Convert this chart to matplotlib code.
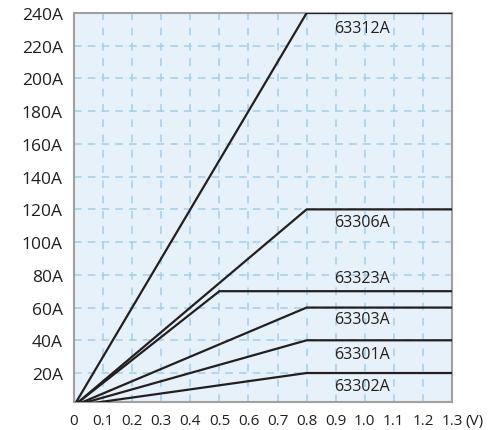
import matplotlib.pyplot as plt

# model curves: voltage at which the current saturates, max current
models = ['63312A', '63306A', '63323A', '63303A', '63301A', '63302A']
knee_v = [0.8, 0.8, 0.5, 0.8, 0.8, 0.8]
max_a = [240, 120, 70, 60, 40, 20]
# label heights (A)
label_y = [231, 112, 78, 53, 31.5, 12]

x_ticks = [0, 0.1, 0.2, 0.3, 0.4, 0.5, 0.6, 0.7, 0.8, 0.9, 1.0, 1.1, 1.2, 1.3]
x_labels = ['0', '0.1', '0.2', '0.3', '0.4', '0.5', '0.6', '0.7', '0.8', '0.9', '1.0', '1.1', '1.2', '1.3']
y_ticks = [20, 40, 60, 80, 100, 120, 140, 160, 180, 200, 220, 240]
y_labels = [str(v) + 'A' for v in y_ticks]
v_max = 1.3

plt.rcParams['font.family'] = ['Open Sans', 'DejaVu Sans']
txt = '#231f20'

fig = plt.figure(figsize=(5, 4.31), dpi=100)
ax = fig.add_axes([0.148, 0.065, 0.756, 0.9025])
ax.set_facecolor('#e6f1f9')

# grid
for x in x_ticks[1:-1]:
    ax.axvline(x, color='#a3d0ea', lw=1.1, ls=(0, (5, 5)), zorder=1)
for y in y_ticks[:-1]:
    ax.axhline(y, color='#a3d0ea', lw=1.1, ls=(0, (5, 4)), zorder=1)

for name, kv, ma, ly in zip(models, knee_v, max_a, label_y):
    ax.plot([0, kv, v_max], [0, ma, ma], color=txt, lw=1.6, zorder=3,
            solid_joinstyle='miter')
    ax.text(0.99, ly, name, ha='center', va='center', fontsize=11.5,
            color=txt)

ax.set_xlim(0, v_max)
ax.set_ylim(2.3, 240)
ax.set_xticks(x_ticks)
ax.set_xticklabels(x_labels)
ax.set_yticks(y_ticks)
ax.set_yticklabels(y_labels)
ax.tick_params(axis='x', length=0, pad=8, labelsize=11, labelcolor=txt)
ax.tick_params(axis='y', length=0, pad=8, labelsize=12.5, labelcolor=txt)
ax.text(1.035, -0.048, '(V)', transform=ax.transAxes, ha='left', va='center',
        fontsize=11, color=txt)
for s in ax.spines.values():
    s.set_color('#a0a0a0')
    s.set_linewidth(1.5)

plt.savefig('out.png', dpi=100)
